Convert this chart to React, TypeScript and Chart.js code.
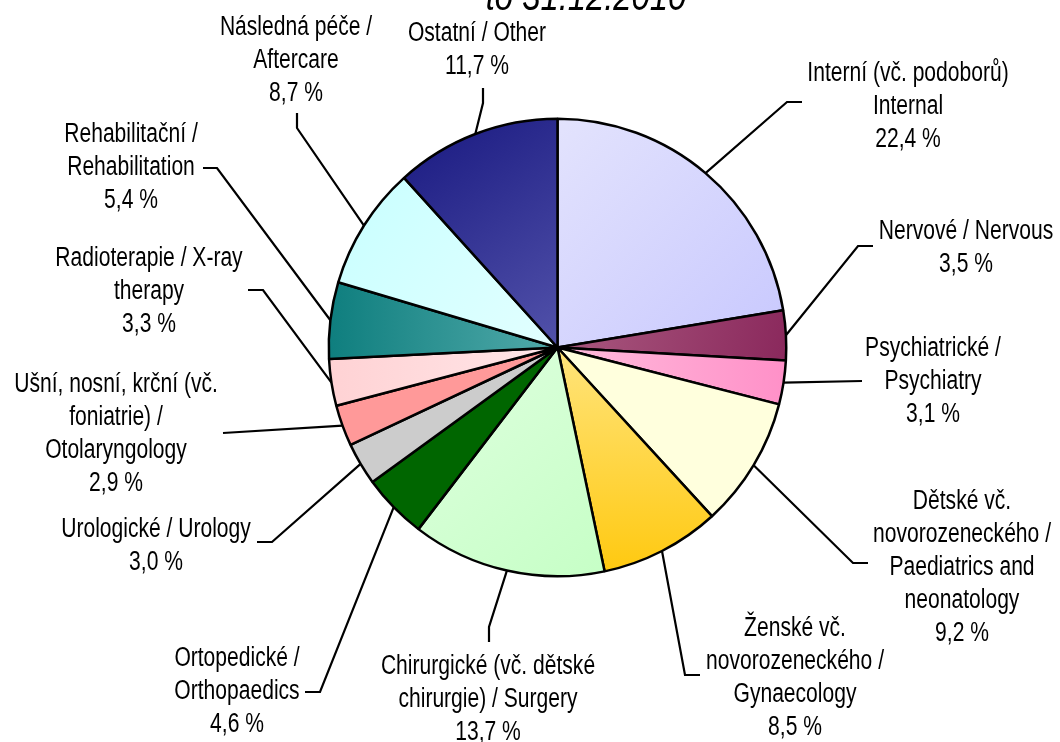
import React, { useEffect, useRef } from 'react';
import { Chart, registerables } from 'chart.js';

Chart.register(...registerables);

// ---- data ----
const categories = [
  'Interní (vč. podoborů) Internal',
  'Nervové / Nervous',
  'Psychiatrické / Psychiatry',
  'Dětské vč. novorozeneckého / Paediatrics and neonatology',
  'Ženské vč. novorozeneckého / Gynaecology',
  'Chirurgické (vč. dětské chirurgie) / Surgery',
  'Ortopedické / Orthopaedics',
  'Urologické / Urology',
  'Ušní, nosní, krční (vč. foniatrie) / Otolaryngology',
  'Radioterapie / X-ray therapy',
  'Rehabilitační / Rehabilitation',
  'Následná péče / Aftercare',
  'Ostatní / Other',
];

const shares = [22.4, 3.5, 3.1, 9.2, 8.5, 13.7, 4.6, 3.0, 2.9, 3.3, 5.4, 8.7, 11.7];

const labelLines = [
  ['Interní (vč. podoborů)', 'Internal'],
  ['Nervové / Nervous'],
  ['Psychiatrické /', 'Psychiatry'],
  ['Dětské vč.', 'novorozeneckého /', 'Paediatrics and', 'neonatology'],
  ['Ženské vč.', 'novorozeneckého /', 'Gynaecology'],
  ['Chirurgické (vč. dětské', 'chirurgie) / Surgery'],
  ['Ortopedické /', 'Orthopaedics'],
  ['Urologické / Urology'],
  ['Ušní, nosní, krční (vč.', 'foniatrie) /', 'Otolaryngology'],
  ['Radioterapie / X-ray', 'therapy'],
  ['Rehabilitační /', 'Rehabilitation'],
  ['Následná péče /', 'Aftercare'],
  ['Ostatní / Other'],
];

const titleText = 'to 31.12.2010';

// ---- styles ----
// [colorA, colorB, gradient mode]
const sliceFills: [string, string, string][] = [
  ['#E3E3FD', '#C8C8FE', 'diag'],
  ['#AA5A80', '#8A285C', 'diag'],
  ['#FFBCDC', '#FF90C8', 'h'],
  ['#FFFFDD', '#FFFFDD', 'flat'],
  ['#FFE47C', '#FFC910', 'v'],
  ['#DFFFDF', '#C6FFC6', 'diag'],
  ['#006600', '#006600', 'flat'],
  ['#CCCCCC', '#CCCCCC', 'flat'],
  ['#FF9999', '#FF9999', 'flat'],
  ['#FFD2D4', '#FFE6E8', 'h'],
  ['#0E7E7E', '#52AAAA', 'h'],
  ['#C8FFFF', '#E2FFFF', 'diag'],
  ['#181880', '#5252AA', 'diag'],
];

// ---- label layout (offsets from pie centre, px) ----
// elbow: null => straight leader
const labelLayout: { elbow: [number, number] | null; end: [number, number]; text: [number, number] }[] = [
  { elbow: [229.5, -245.5], end: [244.5, -245.5], text: [350.5, -266.5] },
  { elbow: [300.5, -101.5], end: [315.5, -101.5], text: [408.5, -108.5] },
  { elbow: null, end: [304.5, 33.5], text: [375.5, 8.5] },
  { elbow: [295.5, 215.5], end: [310.5, 215.5], text: [404.5, 161.5] },
  { elbow: [127.5, 327.5], end: [142.5, 327.5], text: [237.5, 288.5] },
  { elbow: [-68.5, 279.5], end: [-68.5, 294.5], text: [-69.5, 326.5] },
  { elbow: [-237.5, 344.5], end: [-252.5, 344.5], text: [-320.5, 318.5] },
  { elbow: [-285.5, 194.5], end: [-300.5, 194.5], text: [-401.5, 189.5] },
  { elbow: null, end: [-334.5, 85.5], text: [-441.5, 44.5] },
  { elbow: [-294.5, -57.5], end: [-309.5, -57.5], text: [-408.5, -81.5] },
  { elbow: [-340.5, -179.5], end: [-354.5, -179.5], text: [-426.5, -205.5] },
  { elbow: [-260.5, -219.5], end: [-260.5, -234.5], text: [-261.5, -312.5] },
  { elbow: [-74.5, -244.5], end: [-74.5, -259.5], text: [-80.5, -306.5] },
];

const FONT = '"Liberation Sans", Arial, sans-serif';
const FONT_SIZE = 27;
const SCALE_X = 0.78;
const LINE_H = 33;

function fmtPct(v: number) {
  return v.toFixed(1).replace('.', ',') + ' %';
}

function sliceFill(context: any) {
  const i = context.dataIndex;
  const [a, b, mode] = sliceFills[i];
  const chart = context.chart;
  const area = chart.chartArea;
  if (mode === 'flat' || !area) return a;
  const cx = (area.left + area.right) / 2;
  const cy = (area.top + area.bottom) / 2;
  const r = Math.min(area.right - area.left, area.bottom - area.top) / 2;
  const total = shares.reduce((s, v) => s + v, 0);
  let cum = 0;
  for (let k = 0; k < i; k++) cum += shares[k];
  const start = -Math.PI / 2 + (cum / total) * Math.PI * 2;
  const end = start + (shares[i] / total) * Math.PI * 2;
  let minX = cx, maxX = cx, minY = cy, maxY = cy;
  const steps = 24;
  for (let s = 0; s <= steps; s++) {
    const ang = start + ((end - start) * s) / steps;
    const px = cx + r * Math.cos(ang);
    const py = cy + r * Math.sin(ang);
    minX = Math.min(minX, px); maxX = Math.max(maxX, px);
    minY = Math.min(minY, py); maxY = Math.max(maxY, py);
  }
  const ctx = chart.ctx;
  let g;
  if (mode === 'h') g = ctx.createLinearGradient(minX, 0, maxX, 0);
  else if (mode === 'v') g = ctx.createLinearGradient(0, minY, 0, maxY);
  else g = ctx.createLinearGradient(minX, minY, maxX, maxY);
  g.addColorStop(0, a);
  g.addColorStop(1, b);
  return g;
}

const labelPlugin = {
  id: 'outerLabels',
  afterDatasetsDraw(chart: any) {
    const ctx = chart.ctx;
    const meta = chart.getDatasetMeta(0);
    ctx.save();
    ctx.strokeStyle = '#000';
    ctx.lineWidth = 2.2;
    ctx.lineJoin = 'miter';
    ctx.fillStyle = '#000';
    ctx.font = `${FONT_SIZE}px ${FONT}`;
    ctx.textAlign = 'center';
    ctx.textBaseline = 'alphabetic';
    meta.data.forEach((arc: any, i: number) => {
      const { x, y, startAngle, endAngle, outerRadius } = arc.getProps(
        ['x', 'y', 'startAngle', 'endAngle', 'outerRadius'],
        true
      );
      const mid = (startAngle + endAngle) / 2;
      const sx = x + outerRadius * Math.cos(mid);
      const sy = y + outerRadius * Math.sin(mid);
      const lay = labelLayout[i];
      ctx.beginPath();
      ctx.moveTo(sx, sy);
      if (lay.elbow) ctx.lineTo(x + lay.elbow[0], y + lay.elbow[1]);
      ctx.lineTo(x + lay.end[0], y + lay.end[1]);
      ctx.stroke();
      const lines = [...labelLines[i], fmtPct(shares[i])];
      lines.forEach((line, k) => {
        ctx.save();
        ctx.translate(x + lay.text[0], y + lay.text[1] + k * LINE_H);
        ctx.scale(SCALE_X, 1);
        ctx.fillText(line, 0, 0);
        ctx.restore();
      });
    });
    // cropped title
    ctx.save();
    ctx.font = `italic 40px ${FONT}`;
    ctx.translate(586, 10);
    ctx.scale(0.82, 1);
    ctx.fillText(titleText, 0, 0);
    ctx.restore();
    ctx.restore();
  },
};

export default function App() {
  const ref = useRef<HTMLCanvasElement | null>(null);
  useEffect(() => {
    if (!ref.current) return;
    const chart = new Chart(ref.current, {
      type: 'pie',
      data: {
        labels: categories,
        datasets: [
          {
            data: shares,
            backgroundColor: sliceFill as any,
            borderColor: '#000',
            borderWidth: 2.5,
          },
        ],
      },
      options: {
        responsive: false,
        animation: false,
        devicePixelRatio: 1,
        layout: { padding: { left: 327.5, right: 272.5, top: 117.5, bottom: 164.5 } },
        plugins: {
          legend: { display: false },
          tooltip: { enabled: false },
          title: { display: false },
        },
      },
      plugins: [labelPlugin],
    });
    return () => chart.destroy();
  }, []);
  return (
    <div style={{ position: 'absolute', left: 0, top: 0, width: 1060, height: 742, background: '#fff' }}>
      <canvas ref={ref} width={1060} height={742} style={{ display: 'block' }} />
    </div>
  );
}
